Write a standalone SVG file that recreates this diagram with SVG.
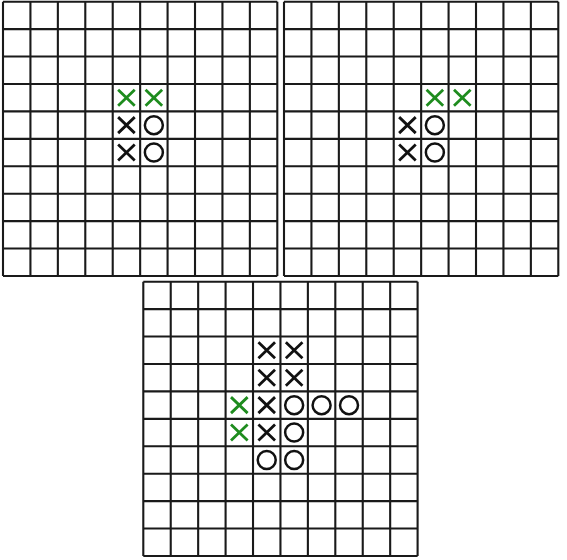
<svg xmlns="http://www.w3.org/2000/svg" xmlns:xlink="http://www.w3.org/1999/xlink" width="567" height="560" viewBox="0 0 567 560">
<style>
.grid{fill:none;stroke:#1a1a1a;stroke-width:2.1}
.xb{stroke:#111;stroke-width:2.8;fill:none;stroke-linecap:butt}
.xg{stroke:#1e8c1e;stroke-width:2.8;fill:none;stroke-linecap:butt}
.o{stroke:#111;stroke-width:2.5;fill:none}
</style>
<defs>
<path id="grid" class="grid" d="M0 0H274.3M0 27.43H274.3M0 54.86H274.3M0 82.29H274.3M0 109.72H274.3M0 137.15H274.3M0 164.58H274.3M0 192.01H274.3M0 219.44H274.3M0 246.87H274.3M0 274.3H274.3M0 0V274.3M27.43 0V274.3M54.86 0V274.3M82.29 0V274.3M109.72 0V274.3M137.15 0V274.3M164.58 0V274.3M192.01 0V274.3M219.44 0V274.3M246.87 0V274.3M274.3 0V274.3"/>
<path id="x" d="M-8.3 -8L8.3 8M-8.3 8L8.3 -8"/>
<circle id="o" r="9"/>
</defs>
<rect width="567" height="560" fill="#fff"/>
<g id="board1" transform="translate(3,1.7)">
<use xlink:href="#grid"/>
<use xlink:href="#x" class="xg" x="123.43" y="96"/>
<use xlink:href="#x" class="xg" x="150.86" y="96"/>
<use xlink:href="#x" class="xb" x="123.43" y="123.43"/>
<use xlink:href="#x" class="xb" x="123.43" y="150.86"/>
<use xlink:href="#o" class="o" x="150.86" y="123.43"/>
<use xlink:href="#o" class="o" x="150.86" y="150.86"/>
</g>
<g id="board2" transform="translate(284,1.7)">
<use xlink:href="#grid"/>
<use xlink:href="#x" class="xg" x="150.86" y="96"/>
<use xlink:href="#x" class="xg" x="178.29" y="96"/>
<use xlink:href="#x" class="xb" x="123.43" y="123.43"/>
<use xlink:href="#x" class="xb" x="123.43" y="150.86"/>
<use xlink:href="#o" class="o" x="150.86" y="123.43"/>
<use xlink:href="#o" class="o" x="150.86" y="150.86"/>
</g>
<g id="board3" transform="translate(143.3,281.7)">
<use xlink:href="#grid"/>
<use xlink:href="#x" class="xb" x="123.43" y="68.57"/>
<use xlink:href="#x" class="xb" x="150.86" y="68.57"/>
<use xlink:href="#x" class="xb" x="123.43" y="96"/>
<use xlink:href="#x" class="xb" x="150.86" y="96"/>
<use xlink:href="#x" class="xb" x="123.43" y="123.43"/>
<use xlink:href="#x" class="xb" x="123.43" y="150.86"/>
<use xlink:href="#x" class="xg" x="96" y="123.43"/>
<use xlink:href="#x" class="xg" x="96" y="150.86"/>
<use xlink:href="#o" class="o" x="150.86" y="123.43"/>
<use xlink:href="#o" class="o" x="178.29" y="123.43"/>
<use xlink:href="#o" class="o" x="205.72" y="123.43"/>
<use xlink:href="#o" class="o" x="150.86" y="150.86"/>
<use xlink:href="#o" class="o" x="123.43" y="178.29"/>
<use xlink:href="#o" class="o" x="150.86" y="178.29"/>
</g>
<g id="connectors"/>
</svg>
